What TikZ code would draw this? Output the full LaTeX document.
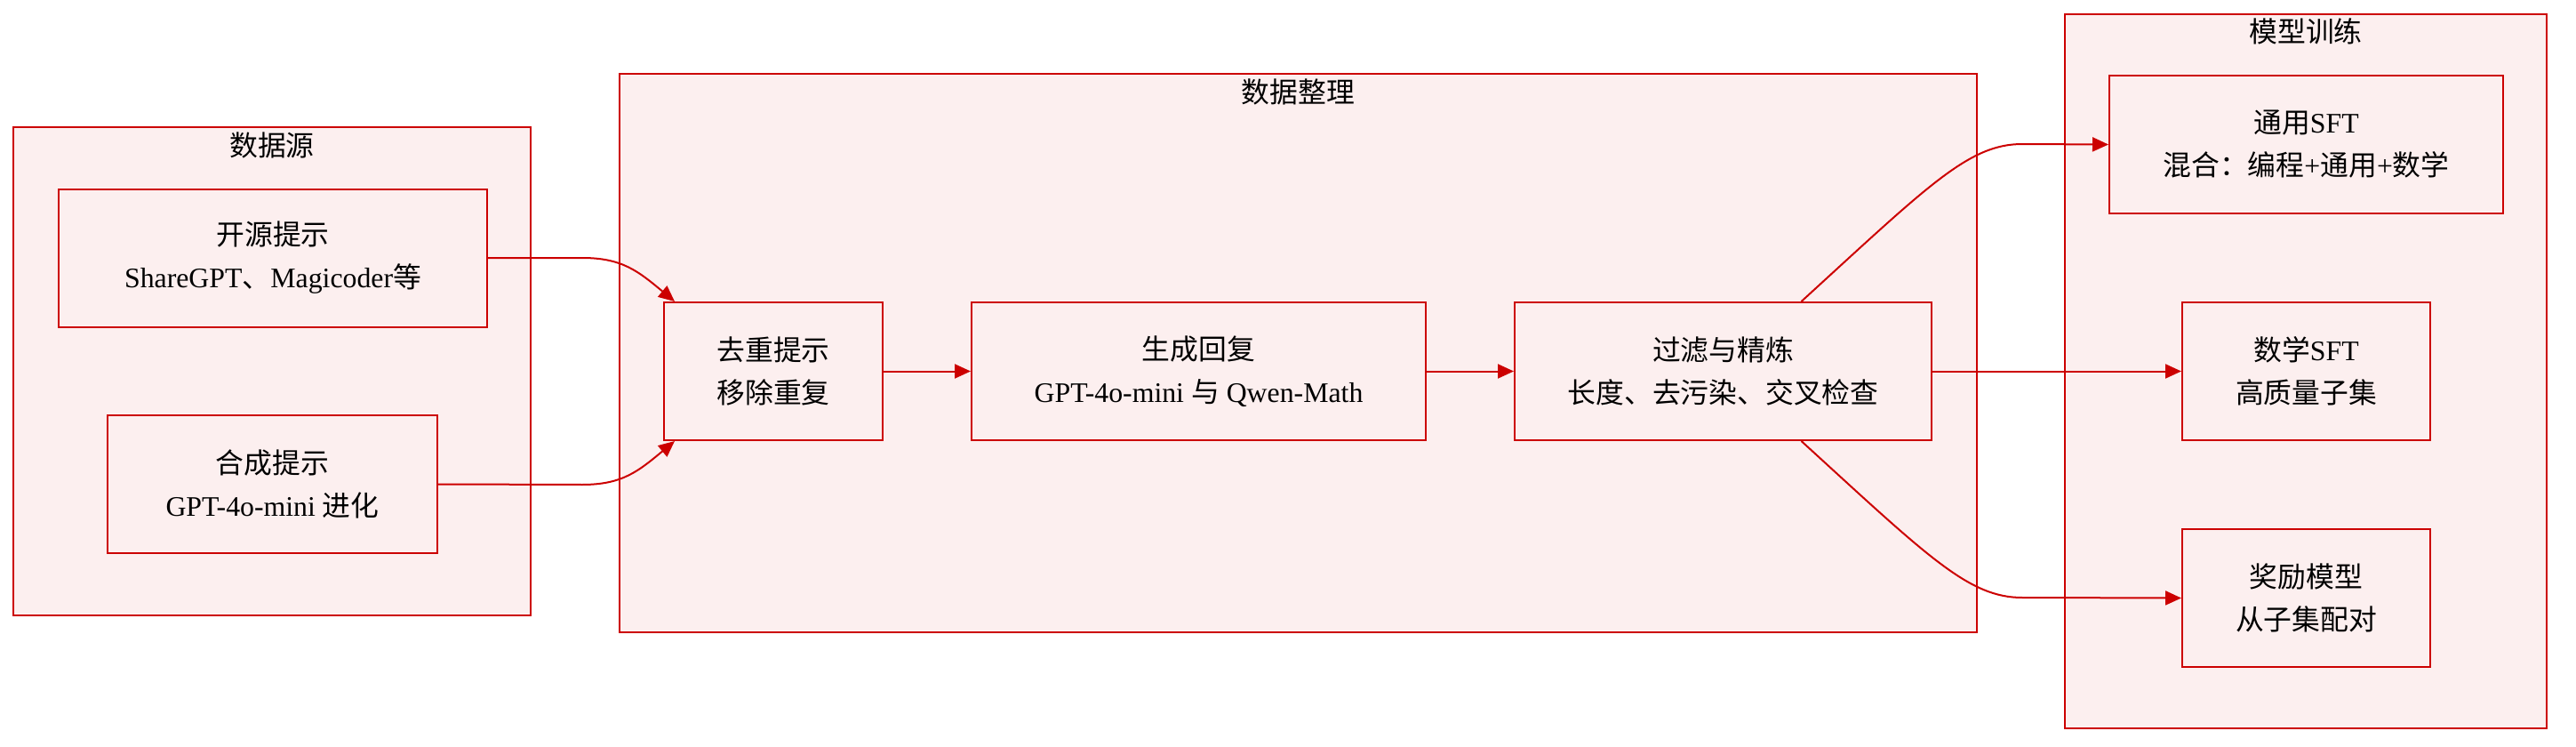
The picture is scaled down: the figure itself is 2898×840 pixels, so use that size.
\documentclass[tikz,border=0pt]{standalone}
\usepackage{fontspec}
\setmainfont{Liberation Serif}
\newfontfamily\cjk{Noto Sans CJK SC}
\usetikzlibrary{arrows.meta,calc}
\definecolor{boxred}{RGB}{204,0,0}
\definecolor{boxfill}{RGB}{252,239,239}
\tikzset{
  cluster/.style={draw=boxred, fill=boxfill, line width=1pt, inner sep=0pt, rectangle},
  box/.style={draw=boxred, fill=boxfill, line width=1pt, inner sep=0pt, rectangle, align=center,
    minimum height=77.5pt, font=\fontsize{15.9}{24}\selectfont},
  ctitle/.style={font=\cjk\fontsize{15.9}{18}\selectfont, inner sep=0pt},
  link/.style={draw=boxred, line width=1pt, -{Triangle[length=9pt,width=8pt]}},
}
\begin{document}
\begin{tikzpicture}[x=0.5pt,y=-0.5pt]
\useasboundingbox (0,0) rectangle (2898,840);
% clusters
\node[cluster, minimum width=291pt, minimum height=274.5pt] (csrc) at (306,417.5) {};
\node[ctitle] (tsrc) at (306,163) {数据源};
\node[cluster, minimum width=763.5pt, minimum height=314pt] (cproc) at (1460.5,397) {};
\node[ctitle] (tproc) at (1460.5,103) {数据整理};
\node[cluster, minimum width=271pt, minimum height=401.5pt] (ctrain) at (2594,417.5) {};
\node[ctitle] (ttrain) at (2594,35) {模型训练};
% nodes
\node[box, minimum width=241pt] (n1) at (307,290) {{\cjk 开源提示}\\ShareGPT{\cjk 、}Magicoder{\cjk 等}};
\node[box, minimum width=185.5pt] (n2) at (306.5,544.5) {{\cjk 合成提示}\\GPT-4o-mini {\cjk 进化}};
\node[box, minimum width=123pt] (n3) at (870,417.5) {{\cjk 去重提示}\\{\cjk 移除重复}};
\node[box, minimum width=255.5pt] (n4) at (1348.5,417.5) {{\cjk 生成回复}\\GPT-4o-mini {\cjk 与} Qwen-Math};
\node[box, minimum width=234.5pt] (n5) at (1938.5,417.5) {{\cjk 过滤与精炼}\\{\cjk 长度、去污染、交叉检查}};
\node[box, minimum width=221.5pt] (n6) at (2594.5,162.5) {{\cjk 通用}SFT\\{\cjk 混合：编程}+{\cjk 通用}+{\cjk 数学}};
\node[box, minimum width=139.5pt] (n7) at (2594.5,417.5) {{\cjk 数学}SFT\\{\cjk 高质量子集}};
\node[box, minimum width=139.5pt] (n8) at (2594.5,672.5) {{\cjk 奖励模型}\\{\cjk 从子集配对}};
% connectors
\coordinate (n3a) at ($(n3.north west)+(13,0)$);
\coordinate (n3b) at ($(n3.south west)+(13,0)$);
\coordinate (n5a) at ($(n5.north)+(88,0)$);
\coordinate (n5b) at ($(n5.south)+(88,0)$);
\draw[link] (n1.east) -- (655,290) .. controls (700,290) and (718,305) .. (n3a);
\draw[link] (n2.east) -- (655,545) .. controls (700,545) and (718,530) .. (n3b);
\draw[link] (n3.east) -- (n4.west);
\draw[link] (n4.east) -- (n5.west);
\draw[link] (n5a) .. controls (2170,208) and (2215,162) .. (2275,162) -- (n6.west);
\draw[link] (n5.east) -- (n7.west);
\draw[link] (n5b) .. controls (2170,627) and (2215,672) .. (2275,672) -- (n8.west);
\end{tikzpicture}
\end{document}
